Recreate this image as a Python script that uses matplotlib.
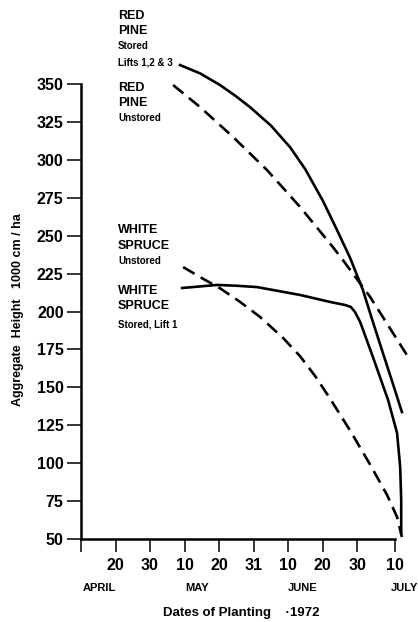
import matplotlib
matplotlib.use('Agg')
import matplotlib.pyplot as plt

plt.rcParams['font.family'] = ['Liberation Sans', 'DejaVu Sans']

# x = days counted so that April 10 = 10, ..., July 10 = 101
rp_stored_x = [38.7, 44.5, 50.3, 55.0, 59.0, 65.0, 70.6, 75.0, 80.1, 84.2, 88.0, 91.7, 94.5, 97.5, 100.3, 103.0]
rp_stored_y = [362.5, 357.0, 349.3, 341.8, 334.7, 322.7, 308.3, 293.8, 273.0, 253.7, 235.3, 214.2, 193.8, 172.6, 153.0, 133.7]

rp_unstored_x = [36.7, 44.5, 54.1, 63.9, 73.5, 83.0, 85.9, 93.8, 104.8]
rp_unstored_y = [349.3, 334.8, 315.0, 293.3, 268.9, 242.5, 233.9, 209.6, 170.0]

ws_stored_x = [39.3, 49.4, 55.0, 61.0, 73.5, 82.2, 86.5, 88.2, 89.4, 90.9, 94.6, 99.0, 101.6, 102.5, 102.8, 102.8]
ws_stored_y = [215.5, 217.5, 217.0, 216.1, 210.9, 206.3, 204.3, 203.0, 199.7, 193.1, 170.0, 141.6, 119.9, 97.5, 75.7, 54.0]

ws_unstored_x = [39.6, 44.5, 50.3, 56.0, 61.9, 68.6, 73.5, 78.0, 82.2, 88.0, 93.8, 98.7, 101.6, 103.0]
ws_unstored_y = [229.3, 222.7, 215.3, 206.5, 196.4, 182.5, 170.5, 157.0, 142.5, 121.5, 99.0, 79.0, 64.5, 51.3]

yticks = [50, 75, 100, 125, 150, 175, 200, 225, 250, 275, 300, 325, 350]
xticks = [10, 20, 30, 40, 50, 60, 70, 80, 90, 101]
xtick_labels = ['', '20', '30', '10', '20', '31', '10', '20', '30', '10']
months = ['APRIL', 'MAY', 'JUNE', 'JULY']
month_pos = [15.2, 43.6, 74.3, 103.6]

fig = plt.figure(figsize=(4.18, 6.22), dpi=100)
ax = fig.add_axes([81/418, (622-539)/622, (395-81)/418, (539-84)/622])

dash = (0, (5, 2.7))
ax.plot(rp_stored_x, rp_stored_y, color='black', lw=1.9, clip_on=False)
ax.plot(rp_unstored_x, rp_unstored_y, color='black', lw=1.9, ls=dash, clip_on=False)
ax.plot(ws_stored_x, ws_stored_y, color='black', lw=1.9, clip_on=False)
ax.plot(ws_unstored_x, ws_unstored_y, color='black', lw=1.9, ls=dash, clip_on=False)

ax.set_xlim(10, 101)
ax.set_ylim(50, 350)
ax.spines['top'].set_visible(False)
ax.spines['right'].set_visible(False)
ax.spines['left'].set_linewidth(1.8)
ax.spines['bottom'].set_linewidth(1.8)
ax.set_yticks(yticks)
ax.set_xticks(xticks)
ax.set_xticklabels(xtick_labels)
ax.tick_params(axis='y', length=10, width=1.1, pad=2.5, labelsize=11.5)
ax.tick_params(axis='x', length=9, width=1.1, pad=4.5, labelsize=11.5)
for lab in ax.get_xticklabels() + ax.get_yticklabels():
    lab.set_fontweight('bold')

for m, p in zip(months, month_pos):
    ax.text(p, -0.1077, m, transform=ax.get_xaxis_transform(), ha='center', va='center',
            fontsize=8, fontweight='bold')

fig.text(241/418, 1-613/622, 'Dates of Planting    \u00b71972', ha='center', va='center',
         fontsize=9.5, fontweight='bold')
fig.text(18/418, 1-310/622, 'Aggregate  Height   1000 cm / ha', rotation=90, ha='center', va='center',
         fontsize=9, fontweight='bold')

# curve labels: (text, y value, big)
labels = [('RED', 394.8, True), ('PINE', 384.9, True), ('Stored', 375.0, False), ('Lifts 1,2 & 3', 364.5, False),
          ('RED', 347.3, True), ('PINE', 337.5, True), ('Unstored', 327.6, False),
          ('WHITE', 253.7, True), ('SPRUCE', 243.2, True), ('Unstored', 233.3, False),
          ('WHITE', 213.5, True), ('SPRUCE', 203.6, True), ('Stored, Lift 1', 191.7, False)]
for t, yv, big in labels:
    ax.text(20.7, yv, t, ha='left', va='center', fontsize=9 if big else 7,
            fontweight='bold', clip_on=False)

fig.savefig('out.png', dpi=100)
